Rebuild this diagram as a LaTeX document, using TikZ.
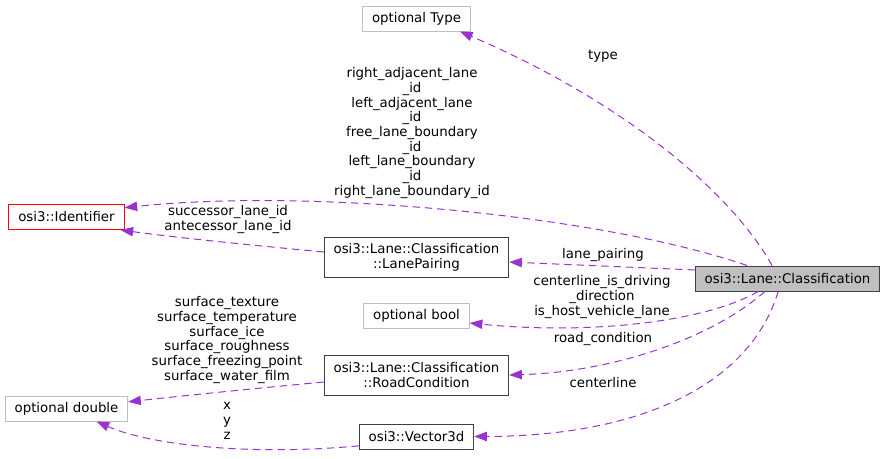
\documentclass[tikz,border=0pt]{standalone}
\usepackage{fontspec}
\setmainfont{DejaVu Sans}
\usetikzlibrary{arrows.meta}
\definecolor{edgepurple}{HTML}{9A32CD}
\definecolor{boxgray}{HTML}{BFBFBF}
\definecolor{boxdark}{HTML}{404040}

\begin{document}
\begin{tikzpicture}[x=0.75pt, y=-0.75pt,
    font=\fontsize{10}{11}\selectfont,
    cls/.style={draw=boxdark, line width=0.75pt, inner xsep=7pt, inner ysep=0pt,
        minimum height=18.75pt, align=center},
    opt/.style={cls, draw=boxgray},
    mref/.style={-{Triangle[length=9.5pt, width=7pt]}, draw=edgepurple,
        line width=0.75pt, dash pattern=on 5.5pt off 3.75pt},
    lbl/.style={align=center, inner sep=0pt}]
    \useasboundingbox (0,0) rectangle (884,458);

    % Classes
    \node[cls, fill=boxgray] (laneclass) at (787.5, 278.5) {osi3::Lane::Classification};
    \node[opt] (opttype) at (416.5, 18.5) {optional Type};
    \node[cls, draw=red] (identifier) at (66.5, 217) {osi3::Identifier};
    \node[cls, minimum height=30pt] (lanepairing) at (416.5, 257) {osi3::Lane::Classification\\::LanePairing};
    \node[opt] (optbool) at (416.5, 316) {optional bool};
    \node[cls, minimum height=30pt] (roadcond) at (416.5, 375) {osi3::Lane::Classification\\::RoadCondition};
    \node[opt] (optdouble) at (66.5, 408.5) {optional double};
    \node[cls] (vector3d) at (416.5, 436.5) {osi3::Vector3d};

    % Member references
    \draw[mref] ([xshift=-11.6pt]laneclass.north) .. controls (730,190) and (620,100) .. ([xshift=32.6pt]opttype.south);
    \draw[mref] ([xshift=-30.4pt]laneclass.north) .. controls (600,215) and (310,188) .. ([yshift=7pt]identifier.east);
    \draw[mref] ([yshift=3.75pt]lanepairing.west) .. controls (250,245) and (180,238) .. ([xshift=-3pt]identifier.south east);
    \draw[mref] ([yshift=6.4pt]laneclass.west) -- ([yshift=-3.75pt]lanepairing.east);
    \draw[mref] ([xshift=-22pt]laneclass.south) .. controls (705,322) and (590,335) .. ([yshift=-5.25pt]optbool.east);
    \draw[mref] ([xshift=-17pt]laneclass.south) .. controls (710,340) and (610,372) .. (roadcond.east);
    \draw[mref] ([yshift=-5.25pt]roadcond.west) .. controls (260,388) and (190,395) .. ([yshift=5pt]optdouble.east);
    \draw[mref] ([xshift=-7pt]laneclass.south) .. controls (750,385) and (640,436) .. (vector3d.east);
    \draw[mref] ([yshift=-7pt]vector3d.west) .. controls (250,456) and (150,445) .. ([xshift=22.5pt]optdouble.south);

    % Labels
    \node[lbl] (ltype) at (603, 56) {type};
    \node[lbl] (lident) at (412, 133) {right\_adjacent\_lane\\\_id\\left\_adjacent\_lane\\\_id\\free\_lane\_boundary\\\_id\\left\_lane\_boundary\\\_id\\right\_lane\_boundary\_id};
    \node[lbl] (lsucc) at (228, 219.5) {successor\_lane\_id\\antecessor\_lane\_id};
    \node[lbl] (lpair) at (603, 255) {lane\_pairing};
    \node[lbl] (lbool) at (602, 297) {centerline\_is\_driving\\\_direction\\is\_host\_vehicle\_lane};
    \node[lbl] (lroad) at (603, 339) {road\_condition};
    \node[lbl] (lcenter) at (603, 383) {centerline};
    \node[lbl] (lsurf) at (227, 340) {surface\_texture\\surface\_temperature\\surface\_ice\\surface\_roughness\\surface\_freezing\_point\\surface\_water\_film};
    \node[lbl] (lxyz) at (227, 421) {x\\y\\z};
\end{tikzpicture}
\end{document}
